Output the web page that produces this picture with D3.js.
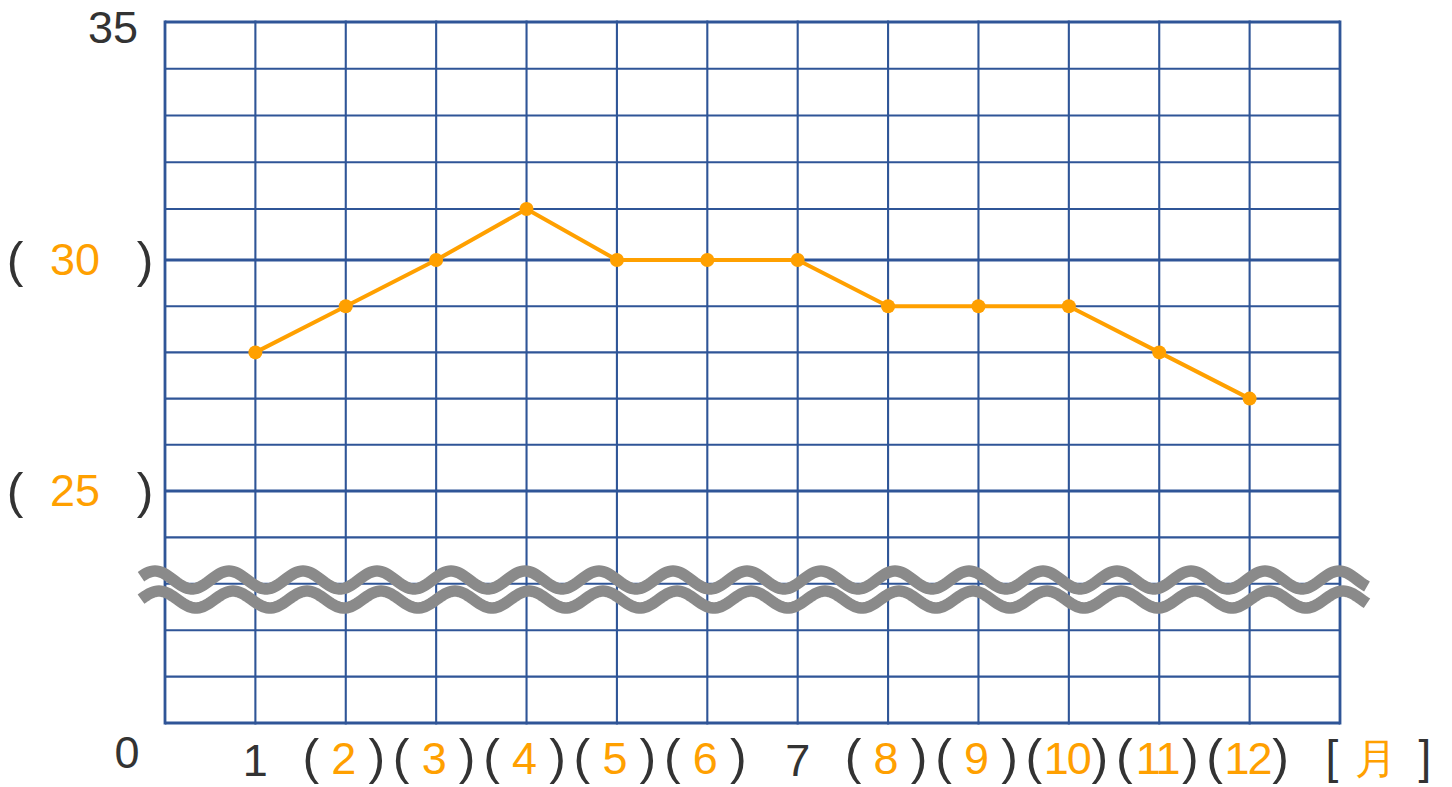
<!DOCTYPE html>
<html>
<head>
<meta charset="utf-8">
<script src="https://cdn.jsdelivr.net/npm/d3@7"></script>
<style>
  html, body { margin: 0; padding: 0; background: #ffffff; }
  svg { display: block; }
  text { font-family: "Liberation Sans", "Noto Sans", sans-serif; }
</style>
</head>
<body>
<svg id="chart" width="1452" height="787"></svg>
<script>
// ---- data ----
const months = [1, 2, 3, 4, 5, 6, 7, 8, 9, 10, 11, 12];
const temps = [28, 29, 30, 31, 30, 30, 30, 29, 29, 29, 28, 27];
const givenMonths = [1, 7];                 // labels shown directly
const yGivenTicks = [35, 0];                // labels shown directly
const yBlankTicks = [30, 25];               // labels shown in ( )
const gridY = [0, 5, 10, 15, 20, 25, 26, 27, 28, 29, 30, 31, 32, 33, 34, 35];
const gridX = [0, 1, 2, 3, 4, 5, 6, 7, 8, 9, 10, 11, 12, 13];
const unitLabel = "月";

// ---- styles ----
const BLUE = "#2F5597";
const ORANGE = "#FFA000";
const DARK = "#333333";
const GREY = "#8A8A8A";
const FS = 45;
const PFS = 50;

const svg = d3.select("#chart");

const x = d3.scaleLinear().domain([0, 13]).range([165, 1340]);
// broken axis: 0..25 compressed below the break
const y = d3.scaleLinear().domain([0, 25, 30, 31, 35]).range([723, 491, 260, 209, 22]);

// ---- grid ----
const g = svg.append("g");
g.selectAll("line.h").data(gridY).enter().append("line")
  .attr("x1", x(0)).attr("x2", x(13))
  .attr("y1", d => y(d)).attr("y2", d => y(d))
  .attr("stroke", BLUE)
  .attr("stroke-width", d => (yBlankTicks.includes(d) || d === 0 || d === 35) ? 3.2 : 2.1);
g.selectAll("line.v").data(gridX).enter().append("line")
  .attr("x1", d => x(d)).attr("x2", d => x(d))
  .attr("y1", y(35) - 1.5).attr("y2", y(0) + 1.5)
  .attr("stroke", BLUE)
  .attr("stroke-width", d => (d === 0 || d === 13) ? 2.8 : 2.1);

// ---- break waves ----
const period = 74;
function wave(cy, amp, phase) {
  const pts = [];
  for (let px = 141; px <= 1367; px += 2) {
    pts.push([px, cy - amp * Math.cos(2 * Math.PI * (px - phase) / period)]);
  }
  return d3.line()(pts);
}
svg.append("path").attr("d", wave(580, 9, 155))
  .attr("fill", "none").attr("stroke", GREY).attr("stroke-width", 11.5);
svg.append("path").attr("d", wave(599.5, 8.5, 159))
  .attr("fill", "none").attr("stroke", GREY).attr("stroke-width", 11.5);

// ---- series ----
const data = months.map((m, i) => ({ m, v: temps[i] }));
svg.append("path").datum(data)
  .attr("d", d3.line().x(d => x(d.m)).y(d => y(d.v)))
  .attr("fill", "none").attr("stroke", ORANGE).attr("stroke-width", 4)
  .attr("stroke-linejoin", "round");
svg.selectAll("circle.pt").data(data).enter().append("circle")
  .attr("cx", d => x(d.m)).attr("cy", d => y(d.v)).attr("r", 7)
  .attr("fill", ORANGE);

// ---- y labels ----
const yl = svg.append("g").attr("font-size", FS);
yGivenTicks.forEach(v => {
  if (v === 35) {
    yl.append("text").attr("x", 138).attr("y", y(v) + 21)
      .attr("text-anchor", "end").attr("fill", DARK).text(String(v));
  } else {
    yl.append("text").attr("x", 127).attr("y", y(v) + 45)
      .attr("text-anchor", "middle").attr("fill", DARK).text(String(v));
  }
});
yBlankTicks.forEach(v => {
  const base = y(v) + 15;
  yl.append("text").attr("x", 15).attr("y", base + 2).attr("font-size", PFS)
    .attr("text-anchor", "middle").attr("fill", DARK).text("(");
  yl.append("text").attr("x", 75).attr("y", base)
    .attr("text-anchor", "middle").attr("fill", ORANGE).text(String(v));
  yl.append("text").attr("x", 145).attr("y", base + 2).attr("font-size", PFS)
    .attr("text-anchor", "middle").attr("fill", DARK).text(")");
});

// ---- x labels ----
const xl = svg.append("g").attr("font-size", FS);
const base = 774;
months.forEach(m => {
  const cx = x(m);
  if (givenMonths.includes(m)) {
    xl.append("text").attr("x", cx).attr("y", base + 2)
      .attr("text-anchor", "middle").attr("fill", DARK).text(String(m));
  } else {
    xl.append("text").attr("x", cx - 35).attr("y", base).attr("font-size", PFS)
      .attr("text-anchor", "middle").attr("fill", DARK).text("(");
    xl.append("text").attr("x", cx - 2).attr("y", base)
      .attr("text-anchor", "middle").attr("fill", ORANGE)
      .attr("letter-spacing", m >= 10 ? -2 : 0).text(String(m));
    xl.append("text").attr("x", cx + 31).attr("y", base).attr("font-size", PFS)
      .attr("text-anchor", "middle").attr("fill", DARK).text(")");
  }
});
// unit [月]
const ux = x(13);
xl.append("text").attr("x", ux - 8).attr("y", 773).attr("font-size", 46)
  .attr("text-anchor", "middle").attr("fill", DARK).text("[");
xl.append("text").attr("x", ux + 36).attr("y", 773)
  .attr("text-anchor", "middle").attr("fill", ORANGE)
  .attr("font-family", "'Noto Sans CJK JP', sans-serif").attr("font-size", 42)
  .text(unitLabel);
xl.append("text").attr("x", ux + 85).attr("y", 773).attr("font-size", 46)
  .attr("text-anchor", "middle").attr("fill", DARK).text("]");
</script>
</body>
</html>
